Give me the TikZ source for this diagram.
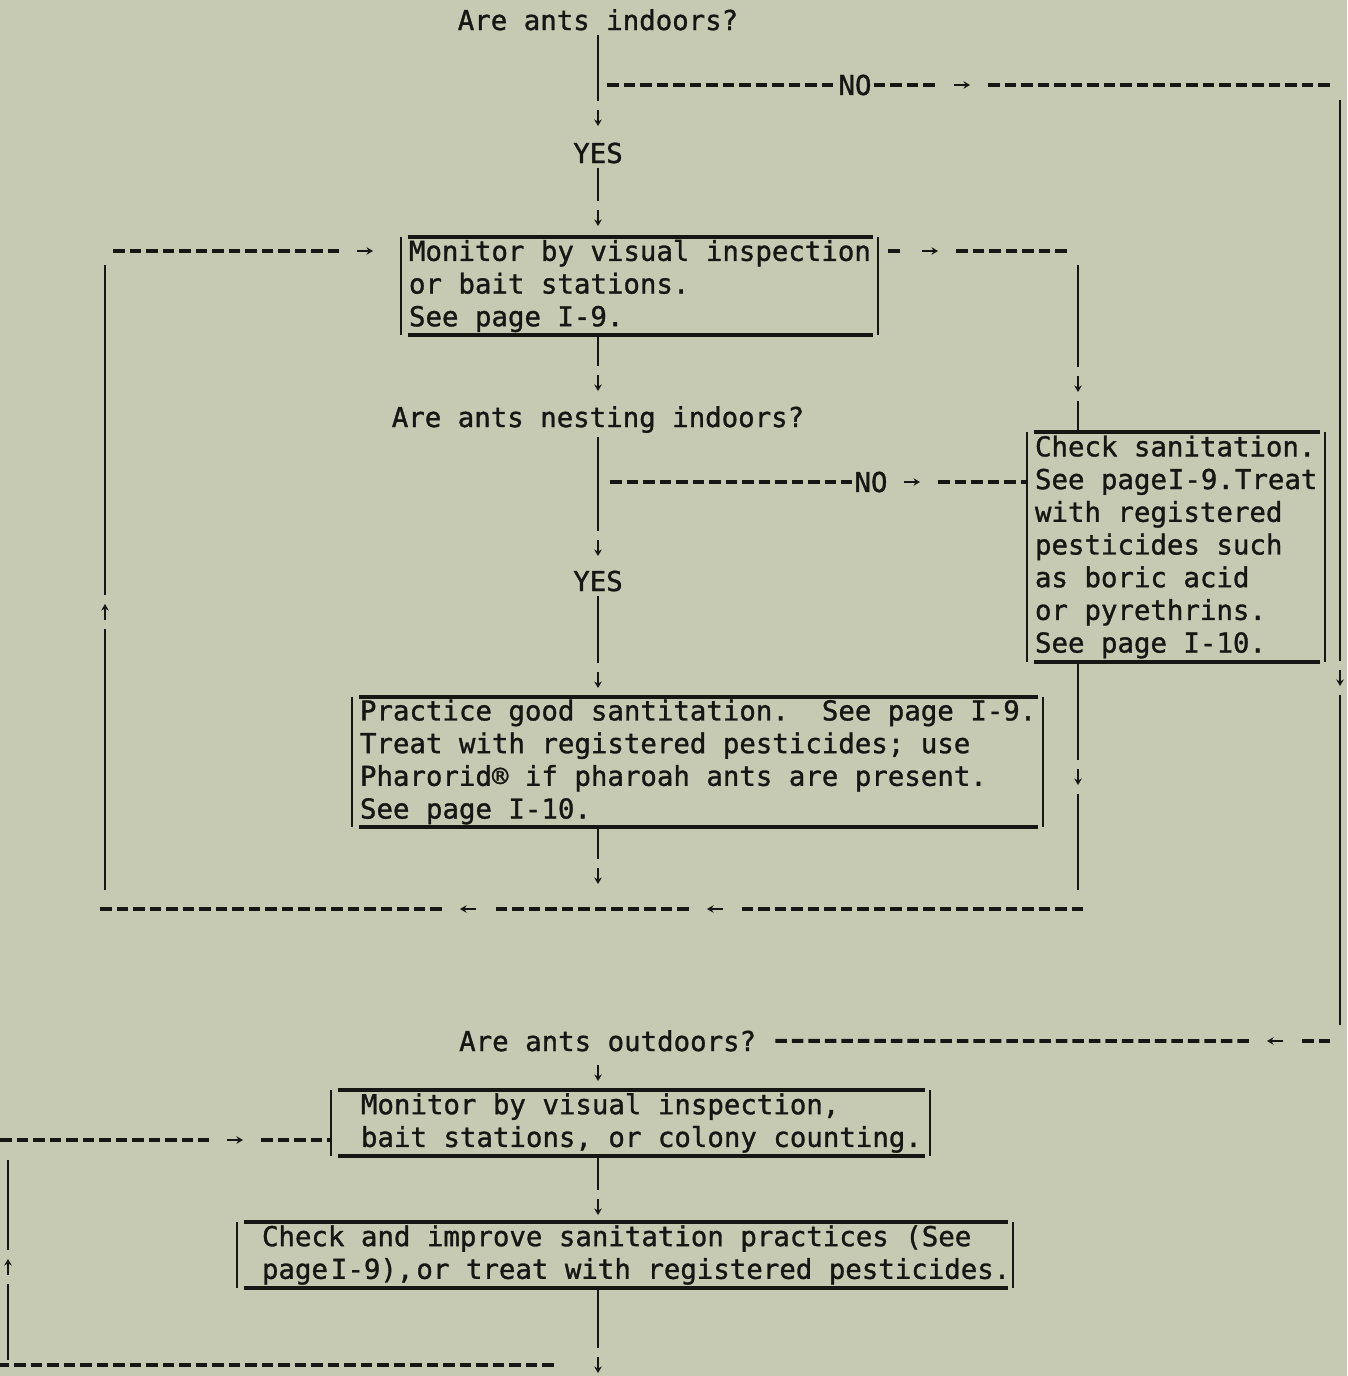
\documentclass[tikz,border=0pt]{standalone}
\usepackage{fontspec}
\newfontfamily\tw[FakeBold=1.2]{DejaVu Sans Mono}
\usetikzlibrary{arrows.meta,calc}
\definecolor{paper}{RGB}{198,202,179}
\definecolor{ink}{RGB}{22,22,20}
\newcommand\tyframe[1]{%
  \draw[bside] (#1.north west) -- (#1.south west);
  \draw[bside] (#1.north east) -- (#1.south east);
  \draw[brule] ([xshift=7pt]#1.north west) -- ([xshift=-5pt]#1.north east);
  \draw[brule] ([xshift=7pt]#1.south west) -- ([xshift=-5pt]#1.south east);}
\begin{document}
\begin{tikzpicture}[x=1pt,y=-1pt,
  txt/.style={font=\tw\fontsize{27.4pt}{32.7pt}\selectfont\frenchspacing, text=ink, inner sep=4pt},
  qtxt/.style={txt, anchor=base},
  lbl/.style={txt, inner xsep=2pt, inner ysep=2pt},
  boxt/.style={txt, inner sep=0pt, align=left, anchor=west},
  frame/.style={rectangle, inner sep=0pt, draw=none},
  vl/.style={draw=ink, line width=1.7pt},
  hd/.style={draw=ink, line width=3.8pt, dash pattern=on 11.5pt off 5pt},
  bside/.style={draw=ink, line width=1.7pt},
  brule/.style={draw=ink, line width=3.8pt},
  glyph/.style={draw=ink, line width=1.8pt, -{Stealth[length=6.5pt,width=7.5pt]}},
  amk/.style={rectangle, inner sep=0pt, draw=none},
  amh/.style={amk, minimum width=52pt, minimum height=12pt},
  amv/.style={amk, minimum width=12pt, minimum height=34pt},
  ar/.style={amh, path picture={\draw[glyph] ([xshift=-8pt]path picture bounding box.center) -- ([xshift=8pt]path picture bounding box.center);}},
  al/.style={amh, path picture={\draw[glyph] ([xshift=8pt]path picture bounding box.center) -- ([xshift=-8pt]path picture bounding box.center);}},
  ad/.style={amv, path picture={\draw[glyph] ([yshift=8pt]path picture bounding box.center) -- ([yshift=-8pt]path picture bounding box.center);}},
  au/.style={amv, path picture={\draw[glyph] ([yshift=-8pt]path picture bounding box.center) -- ([yshift=8pt]path picture bounding box.center);}},
]
\fill[paper] (0,0) rectangle (1347,1376);
\useasboundingbox (0,0) rectangle (1347,1376);

% ---------- text nodes ----------
\node[qtxt] (q1) at (598,30) {Are ants indoors?};
\node[qtxt] (yes1) at (598,163) {YES};
\node[qtxt] (q2) at (598,427) {Are ants nesting indoors?};
\node[qtxt] (yes2) at (598,591) {YES};
\node[qtxt, anchor=base west, inner xsep=0pt] (q3) at (459,1051) {Are ants outdoors?};
\node[lbl] (no1) at (855,85) {NO};
\node[lbl] (no2) at (871,482) {NO};

% ---------- boxes ----------
\node[frame, minimum width=477pt, minimum height=98pt] (b1) at (639.5,286) {};
\node[boxt] (b1t) at ([xshift=8pt]b1.west) {Monitor by visual inspection\\or bait stations.\\See page I-9.};
\tyframe{b1}

\node[frame, minimum width=298pt, minimum height=230pt] (b2) at (1176,547) {};
\node[boxt] (b2t) at ([xshift=8pt]b2.west) {Check sanitation.\\See page\kern1pt I-9.\kern1pt Treat\\with registered\\pesticides such\\as boric acid\\or pyrethrins.\\See page I-10.};
\tyframe{b2}

\node[frame, minimum width=691pt, minimum height=130pt] (b3) at (697.5,762) {};
\node[boxt] (b3t) at ([xshift=8pt]b3.west) {Practice good santitation.~~See page I-9.\\Treat with registered pesticides; use\\Pharorid® if pharoah ants are present.\\See page I-10.};
\tyframe{b3}

\node[frame, minimum width=599pt, minimum height=66pt] (b4) at (630.5,1123) {};
\node[boxt] (b4t) at ([xshift=30pt]b4.west) {Monitor by visual inspection,\\bait stations, or colony counting.};
\tyframe{b4}

\node[frame, minimum width=776pt, minimum height=66pt] (b5) at (625,1255) {};
\node[boxt] (b5t) at ([xshift=25pt]b5.west) {Check and improve sanitation practices (See\\page\kern3pt I-9),\kern3pt or treat with registered pesticides.};
\tyframe{b5}

% ---------- arrow marks ----------
\node[ad] (a1) at (598,118) {};
\node[ad] (a2) at (598,218) {};
\node[ad] (a3) at (598,383) {};
\node[ar] (a4) at (930,251) {};
\node[ad] (a5) at (1078,384) {};
\node[ar] (a6) at (365,251) {};
\node[au] (a7) at (105,612) {};
\node[ad] (a8) at (598,548) {};
\node[ar] (a9) at (912,482) {};
\node[ad] (a10) at (598,680) {};
\node[ad] (a11) at (1078,777) {};
\node[ad] (a12) at (598,876) {};
\node[al] (a13) at (715,909) {};
\node[al] (a14) at (468,909) {};
\node[ar] (a15) at (962,85) {};
\node[ad] (a16) at (1340,678) {};
\node[al] (a17) at (1275,1041) {};
\node[ad] (a18) at (598,1073) {};
\node[ad] (a19) at (598,1207) {};
\node[ad] (a20) at (598,1365) {};
\node[au] (a21) at (8,1267) {};
\node[ar] (a22) at (235,1140) {};

% ---------- corner coordinates ----------
\coordinate (col) at (598,0);
\coordinate (j1) at (598,85);
\coordinate (j2) at (598,482);
\coordinate (c1) at (1340,85);
\coordinate (c2) at (1340,1041);
\coordinate (c3) at (1078,251);
\coordinate (c4) at (1078,909);
\coordinate (c5) at (105,909);
\coordinate (c6) at (105,251);
\coordinate (c7) at (8,1365);
\coordinate (c8) at (8,1140);

% ---------- main column ----------
\draw[vl] (q1) -- (a1);
\draw[vl] (yes1) -- (a2);
\draw[vl] (b1.south -| col) -- (a3);
\draw[vl] (q2) -- (a8);
\draw[vl] (yes2) -- (a10);
\draw[vl] (a10) -- (b3.north -| col);
\draw[vl] (b3.south -| col) -- (a12);

% ---------- NO (indoors) to outdoors ----------
\draw[hd, shorten <=9pt] (j1) -- (no1);
\draw[hd] (no1) -- (a15);
\draw[hd, shorten >=10pt] (a15) -- (c1);
\draw[vl, shorten <=15pt] (c1) -- (a16);
\draw[vl, shorten >=16pt] (a16) -- (c2);
\draw[hd, shorten <=10pt] (c2) -- (a17);
\draw[hd, shorten >=18pt] (a17) -- (q3);

% ---------- NO (nesting) ----------
\draw[hd, shorten <=12pt] (j2) -- (no2);
\draw[hd] (a9) -- (b2.west |- j2);

% ---------- monitoring loop ----------
\draw[hd, shorten <=10pt] (b1.east |- c3) -- (a4);
\draw[hd, shorten >=10pt] (a4) -- (c3);
\draw[vl, shorten <=14pt] (c3) -- (a5);
\draw[vl] (a5) -- (b2.north -| c3);
\draw[vl] (b2.south -| c3) -- (a11);
\draw[vl, shorten >=19pt] (a11) -- (c4);
\draw[hd, shorten <=-5pt] (c4) -- (a13);
\draw[hd] (a13) -- (a14);
\draw[hd, shorten >=-5pt] (a14) -- (c5);
\draw[vl, shorten <=19pt] (c5) -- (a7);
\draw[vl, shorten >=14pt] (a7) -- (c6);
\draw[hd, shorten <=8pt] (c6) -- (a6);

% ---------- outdoors ----------
\draw[vl] (b4.south -| col) -- (a19);
\draw[vl] (b5.south -| col) -- (a20);
\draw[hd, shorten <=38pt, shorten >=-8pt] (a20) -- (c7);
\draw[vl, shorten <=5pt] (c7) -- (a21);
\draw[vl, shorten >=20pt] (a21) -- (c8);
\draw[hd, shorten <=-8pt] (c8) -- (a22);
\draw[hd] (a22) -- (b4.west |- c8);
\end{tikzpicture}
\end{document}
